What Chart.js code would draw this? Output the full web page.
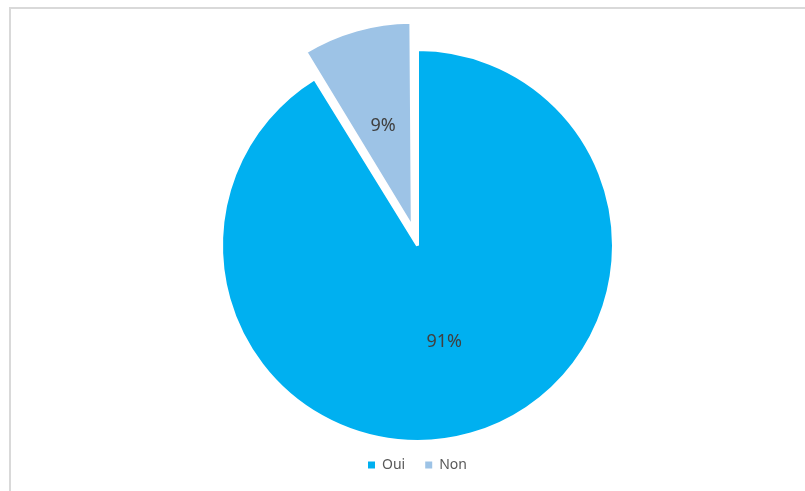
<!DOCTYPE html>
<html>
<head>
<meta charset="utf-8">
<script src="https://cdn.jsdelivr.net/npm/chart.js@4/dist/chart.umd.min.js"></script>
<style>
  html, body { margin: 0; padding: 0; background: #fff; }
  #wrap { width: 805px; height: 491px; }
</style>
</head>
<body>
<div id="wrap"><canvas id="pieChart" width="805" height="491"></canvas></div>
<script>
const labels = ['Oui', 'Non'];
const values = [91.2, 8.8];
const colors = ['#00B0F0', '#9DC3E6'];
const offsets = [0, 76];

// cadre gris en haut et à gauche
const framePlugin = {
  id: 'frame',
  beforeDraw(chart) {
    const ctx = chart.ctx;
    ctx.save();
    ctx.fillStyle = '#D9D9D9';
    ctx.fillRect(9, 7, chart.width - 9, 2);
    ctx.fillRect(9, 7, 2, chart.height - 7);
    ctx.restore();
  }
};

// étiquettes en pourcentage
const percentLabels = {
  id: 'percentLabels',
  afterDatasetsDraw(chart) {
    const ctx = chart.ctx;
    const meta = chart.getDatasetMeta(0);
    const total = values.reduce((a, b) => a + b, 0);
    ctx.save();
    ctx.font = '18px "Noto Sans"';
    ctx.fillStyle = '#404040';
    ctx.textAlign = 'center';
    ctx.textBaseline = 'middle';
    meta.data.forEach((arc, i) => {
      const p = arc.getProps(['x', 'y', 'startAngle', 'endAngle', 'outerRadius', 'circumference'], true);
      const mid = (p.startAngle + p.endAngle) / 2;
      // même décalage que celui appliqué par Chart.js au dessin de l'arc
      const fix = 1 - Math.sin(Math.min(Math.PI, p.circumference));
      const shift = offsets[i] / 4 * (1 + fix);
      const dist = p.outerRadius * 0.5 + shift;
      const x = p.x + Math.cos(mid) * dist;
      const y = p.y + Math.sin(mid) * dist + 2;
      ctx.fillText(Math.round(values[i] / total * 100) + '%', x, y);
    });
    ctx.restore();
  }
};

const ctx = document.getElementById('pieChart').getContext('2d');
new Chart(ctx, {
  type: 'pie',
  data: {
    labels,
    datasets: [{
      data: values,
      backgroundColor: colors,
      borderColor: '#fff',
      borderWidth: 3,
      offset: offsets,
      radius: 196
    }]
  },
  options: {
    responsive: false,
    animation: false,
    layout: { padding: { left: 30, right: 0, top: 53, bottom: 9 } },
    plugins: {
      tooltip: { enabled: false },
      legend: {
        position: 'bottom',
        labels: {
          boxWidth: 7,
          boxHeight: 7,
          padding: 20,
          color: '#595959',
          font: { family: 'Noto Sans', size: 14 },
          generateLabels(chart) {
            const items = Chart.overrides.pie.plugins.legend.labels.generateLabels(chart);
            items.forEach(it => { it.lineWidth = 0; });
            return items;
          }
        }
      }
    }
  },
  plugins: [framePlugin, percentLabels]
});
</script>
</body>
</html>
